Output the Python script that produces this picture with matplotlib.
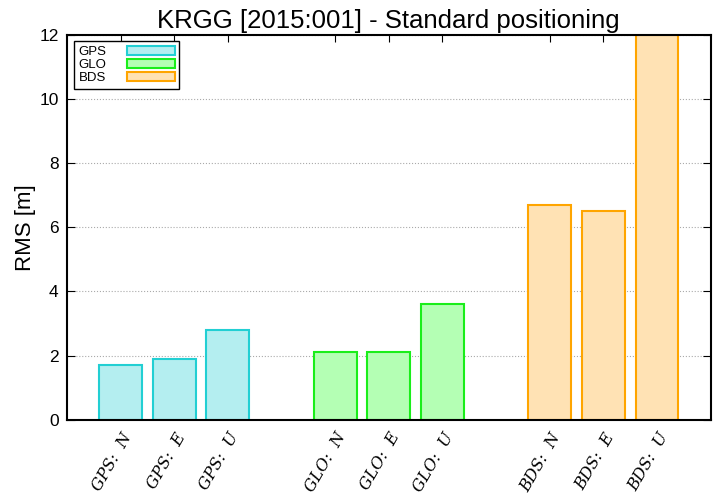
import numpy as np
import matplotlib
matplotlib.use("Agg")
import matplotlib.pyplot as plt

plt.rcParams["font.family"] = ["Liberation Sans", "DejaVu Sans"]

systems = ["GPS", "GLO", "BDS"]
components = ["N", "E", "U"]
rms = {
    "GPS": [1.7, 1.9, 2.8],
    "GLO": [2.1, 2.1, 3.6],
    "BDS": [6.7, 6.5, 12.0],
}
edge_colors = {"GPS": "#22cfd3", "GLO": "#1aee1a", "BDS": "#ffa500"}
face_colors = {"GPS": "#b4eef0", "GLO": "#b4ffb4", "BDS": "#ffe2b4"}

fig = plt.figure(figsize=(7.2, 5.04), dpi=100)
ax = fig.add_axes([0.093, 0.167, 0.894, 0.764])

positions, labels = [], []
for i, sys_name in enumerate(systems):
    x = np.arange(3) + 4 * i
    ax.bar(x, rms[sys_name], width=0.8, color=face_colors[sys_name],
           edgecolor=edge_colors[sys_name], linewidth=1.5, label=sys_name, zorder=3)
    positions.extend(x)
    labels.extend([f"{sys_name}:  {c}" for c in components])

ax.set_xlim(-1, 11)
ax.set_ylim(0, 12)
ax.set_yticks(np.arange(0, 13, 2))
ax.set_xticks(positions)
ax.set_xticklabels(labels, rotation=60, ha="right", va="top",
                   rotation_mode="anchor", family="DejaVu Serif",
                   style="italic", fontsize=11.5)
ax.tick_params(axis="x", direction="in", top=True, bottom=True, length=5, pad=7)
ax.tick_params(axis="y", direction="in", right=True, length=6, labelsize=12.5, pad=6)
ax.yaxis.grid(True, linestyle=":", color="#aaaaaa", linewidth=0.8, zorder=0)
for s in ax.spines.values():
    s.set_linewidth(1.5)
    s.set_zorder(4)

ax.set_ylabel("RMS [m]", fontsize=16, labelpad=2)
ax.set_title("KRGG [2015:001] - Standard positioning", fontsize=18.5, pad=5)

leg = ax.legend(loc="upper left", markerfirst=False, fontsize=9.5,
                fancybox=False, framealpha=1, edgecolor="black",
                handlelength=3.6, handleheight=0.7, handletextpad=1.6,
                labelspacing=0.05, borderaxespad=0.5, borderpad=0.35)
leg.get_frame().set_linewidth(1.0)

fig.savefig("out.png", dpi=100)
